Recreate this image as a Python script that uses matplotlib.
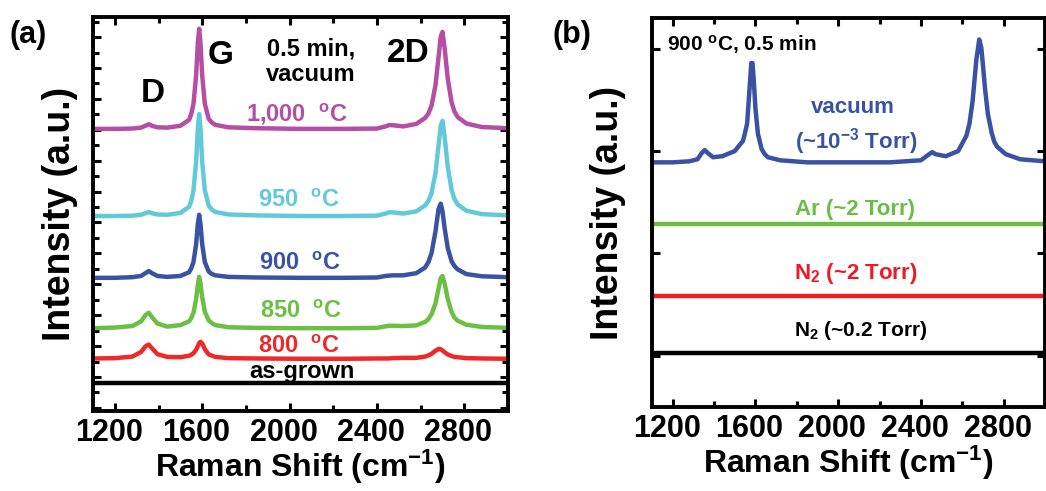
import matplotlib
matplotlib.use("Agg")
import matplotlib.pyplot as plt
from matplotlib.ticker import MultipleLocator, NullFormatter
from matplotlib.transforms import ScaledTranslation

plt.rcParams['font.family'] = ['Liberation Sans', 'DejaVu Sans']
plt.rcParams['font.weight'] = 'bold'
plt.rcParams['axes.labelweight'] = 'bold'
plt.rcParams['mathtext.fontset'] = 'custom'
plt.rcParams['mathtext.rm'] = 'Liberation Sans:bold'
plt.rcParams['mathtext.bf'] = 'Liberation Sans:bold'
plt.rcParams['mathtext.it'] = 'Liberation Sans:bold'

shift = [1100, 1200, 1280, 1320, 1340, 1355, 1370, 1395, 1440, 1500,
         1540, 1550, 1560, 1572, 1580, 1586, 1592, 1600, 1612, 1630,
         1645, 1660, 1720, 1850, 2050, 2250, 2400, 2440, 2455, 2470,
         2520, 2580, 2620, 2635, 2650, 2668, 2682, 2692, 2700, 2710,
         2724, 2742, 2755, 2770, 2810, 2880, 3000]

# panel (a): annealing temperature series, offset intensities (a.u.)
t1000 = [9.03, 9.03, 9.04, 9.07, 9.13, 9.18, 9.13, 9.08, 9.07, 9.13,
         9.32, 9.52, 9.84, 10.75, 11.82, 12.27, 11.82, 10.75, 9.84, 9.35,
         9.23, 9.16, 9.08, 9.05, 9.03, 9.03, 9.04, 9.11, 9.15, 9.15,
         9.11, 9.19, 9.38, 9.52, 9.78, 10.44, 11.35, 12.01, 12.17, 11.64,
         10.66, 9.88, 9.59, 9.41, 9.20, 9.09, 9.05]
t950 = [6.21, 6.21, 6.22, 6.25, 6.30, 6.34, 6.30, 6.26, 6.25, 6.31,
        6.51, 6.70, 7.04, 7.96, 9.05, 9.51, 9.05, 7.96, 7.04, 6.54,
        6.41, 6.34, 6.26, 6.23, 6.21, 6.21, 6.22, 6.29, 6.33, 6.33,
        6.29, 6.36, 6.55, 6.69, 6.95, 7.60, 8.49, 9.14, 9.29, 8.77,
        7.81, 7.04, 6.76, 6.58, 6.38, 6.27, 6.23]
t900 = [4.21, 4.21, 4.23, 4.27, 4.36, 4.43, 4.36, 4.27, 4.24, 4.27,
        4.39, 4.52, 4.72, 5.29, 5.96, 6.25, 5.96, 5.29, 4.72, 4.41,
        4.33, 4.29, 4.24, 4.22, 4.21, 4.21, 4.22, 4.27, 4.28, 4.29,
        4.29, 4.36, 4.54, 4.71, 5.01, 5.71, 6.44, 6.61, 6.36, 5.81,
        5.18, 4.74, 4.59, 4.48, 4.33, 4.26, 4.23]
t850 = [2.58, 2.60, 2.65, 2.80, 3.00, 3.08, 2.94, 2.73, 2.63, 2.68,
        2.80, 2.91, 3.08, 3.51, 3.99, 4.24, 4.04, 3.58, 3.11, 2.83,
        2.74, 2.68, 2.61, 2.59, 2.58, 2.58, 2.59, 2.64, 2.66, 2.66,
        2.65, 2.67, 2.78, 2.87, 3.03, 3.38, 3.86, 4.20, 4.27, 4.02,
        3.53, 3.10, 2.92, 2.82, 2.69, 2.62, 2.59]
t800 = [1.60, 1.61, 1.66, 1.81, 1.99, 2.05, 1.93, 1.74, 1.65, 1.64,
        1.69, 1.72, 1.77, 1.88, 2.00, 2.09, 2.14, 2.09, 1.90, 1.73,
        1.69, 1.65, 1.61, 1.60, 1.59, 1.59, 1.60, 1.60, 1.60, 1.61,
        1.62, 1.62, 1.66, 1.70, 1.75, 1.85, 1.91, 1.90, 1.86, 1.80,
        1.73, 1.68, 1.65, 1.64, 1.61, 1.60, 1.59]
flat_shift = [1100, 3000]
as_grown = [0.81, 0.81]

# panel (b): 900 C, 0.5 min, different atmospheres
vacuum = [2.89, 2.89, 2.90, 2.92, 2.98, 3.01, 2.98, 2.94, 2.95, 3.00,
          3.10, 3.18, 3.27, 3.62, 3.86, 3.86, 3.69, 3.42, 3.17, 3.02,
          2.97, 2.94, 2.91, 2.89, 2.89, 2.89, 2.91, 2.97, 2.99, 2.97,
          2.95, 3.00, 3.15, 3.27, 3.49, 3.89, 4.09, 4.01, 3.84, 3.61,
          3.36, 3.18, 3.09, 3.04, 2.97, 2.92, 2.90]
argon = [2.29, 2.29]
n2_2torr = [1.58, 1.58]
n2_02torr = [1.03, 1.03]

W, H = 1046, 491
fig = plt.figure(figsize=(W / 100, H / 100), dpi=100)

ax1 = fig.add_axes([93 / W, 1 - 411 / H, 415 / W, 394 / H])
ax2 = fig.add_axes([652 / W, 1 - 407 / H, 393 / W, 389 / H])

lw = 3.2
kw = dict(lw=lw, solid_joinstyle='round', solid_capstyle='butt')
ax1.plot(flat_shift, as_grown, color='black', zorder=3, **kw)
ax1.plot(shift, t800, color='#ED2A2A', **kw)
ax1.plot(shift, t850, color='#6CBE45', **kw)
ax1.plot(shift, t900, color='#3A52A4', **kw)
ax1.plot(shift, t950, color='#62C9D9', **kw)
ax1.plot(shift, t1000, color='#B54FA3', **kw)

ax2.plot(shift, vacuum, color='#3A52A4', **kw)
ax2.plot(flat_shift, argon, color='#6ABD45', **kw)
ax2.plot(flat_shift, n2_2torr, color='#ED1C24', **kw)
ax2.plot(flat_shift, n2_02torr, color='black', **kw)

shift_left = ScaledTranslation(-6 / 100, 0, fig.dpi_scale_trans)
for ax, pad in ((ax1, 6), (ax2, 14)):
    ax.set_xlim(1100, 3000)
    ax.xaxis.set_major_locator(MultipleLocator(400))
    ax.xaxis.set_minor_locator(MultipleLocator(200))
    ax.yaxis.set_major_formatter(NullFormatter())
    ax.tick_params(which='both', direction='in', top=True, right=True,
                   width=2.2, labelsize=22, pad=5)
    ax.tick_params(which='major', length=5.5)
    ax.tick_params(which='minor', length=4)
    for lbl in ax.get_xticklabels():
        lbl.set_fontweight('bold')
        lbl.set_transform(lbl.get_transform() + shift_left)
    for s in ax.spines.values():
        s.set_linewidth(2.8)
    ax.set_xlabel('Raman Shift (cm$^{-1}$)', fontsize=23, labelpad=0)
    ax.set_ylabel('Intensity (a.u.)', fontsize=27, labelpad=pad)

ax1.set_ylim(-0.1, 12.65)
ax1.yaxis.set_major_locator(MultipleLocator(1))
ax1.yaxis.set_minor_locator(MultipleLocator(0.5))
ax2.set_ylim(0.5, 4.3)
ax2.yaxis.set_major_locator(MultipleLocator(1))

# panel (a) annotations
ax1.text(1375, 10.16, 'D', fontsize=24, ha='center', va='center')
ax1.text(1686, 11.39, 'G', fontsize=24, ha='center', va='center')
ax1.text(2542, 11.46, '2D', fontsize=24, ha='center', va='center')
ax1.text(2098, 11.2, '0.5 min,\nvacuum', fontsize=17, ha='center', va='center',
         linespacing=1.1)
deg = r'$^{\mathbf{o}}$C'
ax1.text(2034, 9.51, '1,000  ' + deg, fontsize=17, color='#B54FA3', ha='center', va='center')
ax1.text(2043, 6.70, '950  ' + deg, fontsize=17, color='#62C9D9', ha='center', va='center')
ax1.text(2048, 4.66, '900  ' + deg, fontsize=17, color='#3A52A4', ha='center', va='center')
ax1.text(2052, 3.11, '850  ' + deg, fontsize=17, color='#6CBE45', ha='center', va='center')
ax1.text(2043, 2.00, '800  ' + deg, fontsize=17, color='#ED2A2A', ha='center', va='center')
ax1.text(2057, 1.17, 'as-grown', fontsize=17, color='black', ha='center', va='center', zorder=1)

# panel (b) annotations
ax2.text(1172, 4.04, r'900 $^{\mathbf{o}}$C, 0.5 min', fontsize=15, ha='left', va='center')
ax2.text(2069, 3.43, 'vacuum', fontsize=16, color='#3A52A4', ha='center', va='center')
ax2.text(2088, 3.09, r'(~10$^{-3}$ Torr)', fontsize=16, color='#3A52A4', ha='center', va='center')
ax2.text(2083, 2.43, 'Ar (~2 Torr)', fontsize=16, color='#6ABD45', ha='center', va='center')
ax2.text(2083, 1.80, r'N$_{2}$ (~2 Torr)', fontsize=16, color='#ED1C24', ha='center', va='center')
ax2.text(2107, 1.25, r'N$_{2}$ (~0.2 Torr)', fontsize=15, color='black', ha='center', va='center')

fig.text(28 / W, 1 - 35 / H, '(a)', fontsize=22, ha='center', va='center')
fig.text(572 / W, 1 - 35 / H, '(b)', fontsize=22, ha='center', va='center')

fig.savefig('out.png', dpi=100)
